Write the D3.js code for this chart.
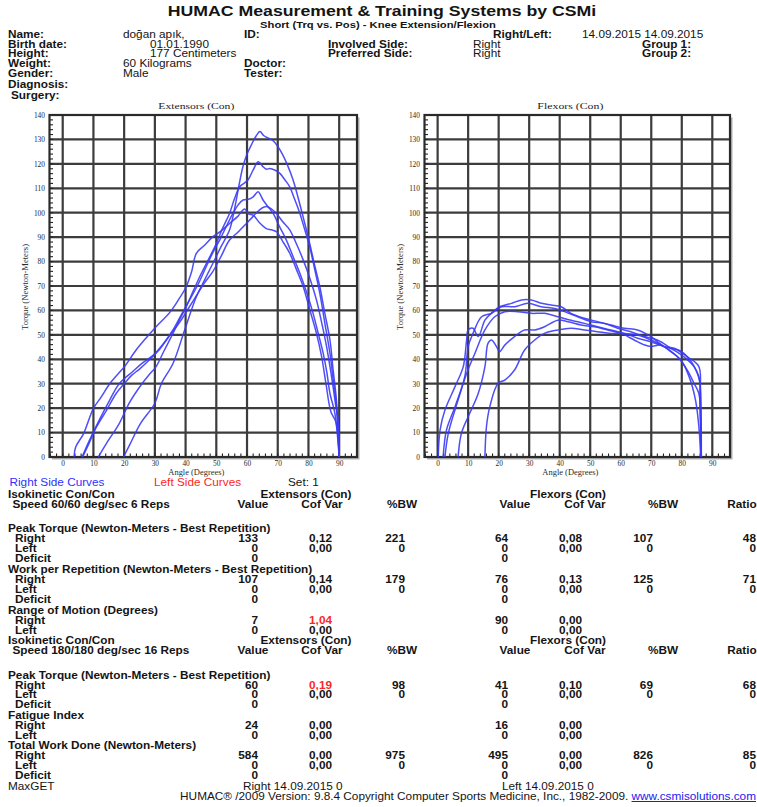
<!DOCTYPE html>
<html><head><meta charset="utf-8">
<script src="https://cdn.jsdelivr.net/npm/d3@7"></script>
<style>body{margin:0;background:#fff;}svg{display:block;}</style>
</head><body>
<svg id="c" width="757" height="807"></svg>
<script>
// ---------------- DATA ----------------
const titleText = "HUMAC Measurement & Training Systems by CSMi";
const subtitleText = "Short (Trq vs. Pos) - Knee Extension/Flexion";
const patientLabels = ["Name:", "Birth date:", "Height:", "Weight:", "Gender:", "Diagnosis:", "Surgery:"];
const patientValues = ["doğan apık,", "01.01.1990", "177 Centimeters", "60 Kilograms", "Male", "", ""];
const middleLabels = ["ID:", "Involved Side:", "Preferred Side:", "Doctor:", "Tester:", "", ""];
const middleValues = ["", "Right", "Right", "", "", "", ""];
const rightLabels = ["Right/Left:", "Group 1:", "Group 2:"];
const testDates = "14.09.2015 14.09.2015";

const angleTicks = [0, 10, 20, 30, 40, 50, 60, 70, 80, 90];
const torqueTicks = [0, 10, 20, 30, 40, 50, 60, 70, 80, 90, 100, 110, 120, 130, 140];
const chartTitles = ["Extensors (Con)", "Flexors (Con)"];
const yAxisTitle = "Torque (Newton-Meters)";
const xAxisTitle = "Angle (Degrees)";

// Extensor repetitions [angle, torque]
const extRep1 = [[19.8,0],[22,5.5],[25.3,13.7],[30,22],[32.1,30],[35.9,38.3],[39.7,52],[43.5,65.6],[46.2,72.5],[48.9,79.3],[51.5,86],[54.3,92.9],[56,102],[57.5,112],[58.7,119],[60,124],[61.5,128],[63,131.5],[64.2,133.2],[65.5,131.5],[67,130.5],[68.5,129.5],[69.8,127.5],[71.5,124],[73,120],[75,113.4],[77.7,101],[80.4,87.4],[82,78.5],[83.7,69.7],[85.3,59],[87,47.9],[88,36],[89.1,23.3],[90,0]];
const extRep2 = [[11.6,0],[14.2,5.5],[18.4,13.7],[21.6,22],[25.8,30],[28,33.5],[30.4,37],[33,43.5],[35.9,50.6],[38,56],[40.2,61.5],[42.5,68],[44.6,73.8],[47.5,81],[50,87.4],[52,93.5],[54.3,99.7],[56,106],[57.6,110.6],[59,112],[60.3,113.4],[62,117.5],[63.6,120.9],[64.5,120],[65.2,118.8],[66.3,117.8],[67.4,118.1],[69,117.5],[70.7,116.1],[72.3,113.5],[73.9,110.6],[75.5,105.5],[77.2,99.7],[78.8,93],[80.4,86],[82,77],[83.7,67],[85.3,55],[87,42.4],[88,32],[89.1,20.6],[90,0]];
const extRep3 = [[6.3,0],[8.4,6],[11.6,14.4],[15.3,23.3],[18.4,30],[22.8,35],[26,38.5],[29.3,41.5],[32.5,46],[35.9,52],[38.5,58],[41.3,64.3],[44,70.5],[46.7,77.9],[49,84],[51.1,88.8],[53.3,94.5],[55.4,99.7],[57,103],[58.7,105.2],[60.5,105.5],[62,106.5],[63.6,108.6],[64.5,107],[65.2,105.2],[66.8,102.5],[68.5,99.7],[70.5,94.5],[72.8,88.8],[75,82],[77.2,75.2],[79.5,67],[81.5,58.8],[83.2,50.5],[84.8,42.4],[86,34.5],[87,26],[88.6,17.9],[90,0]];
const extRep4 = [[6.5,0],[8,4],[11,12.3],[14.2,19],[17.4,26],[20,30],[22.5,33.5],[25,36],[28,39.5],[31.5,44],[35,50],[38,55],[41,61],[43.5,66],[46,71],[48.9,76],[51.5,82],[54.3,88.8],[57,92],[59.8,95.6],[62,98.5],[64.1,101.2],[66.3,102.5],[68,101.5],[69.6,99.7],[71.5,96.5],[73.9,93],[76,87.5],[78.3,80.6],[80.5,73],[82.6,64.3],[84.3,55],[85.9,45.2],[87,37],[88,28.8],[89,20],[89.7,15],[90,0]];
const extRep5 = [[3.7,0],[4.2,4],[6.8,9.6],[10,19.9],[12.5,24.5],[15.3,30],[18,34],[20.1,37],[23.9,43.8],[27,48.5],[30.4,53.3],[34.8,59.1],[37.5,64],[40.2,69.7],[42,76],[43.5,83.4],[46,86.5],[48.9,90.2],[51.5,92.5],[54.3,95.6],[57,98.5],[59.2,101.5],[60.5,99.5],[62,99],[64,96],[66.3,93.5],[68,93],[69.6,92.2],[71.5,88.5],[73.9,83.4],[76,77],[78.3,69.7],[80.5,60],[82.6,50.6],[84.3,41],[85.7,30],[87.3,18.5],[88.9,14.4],[90,0]];

// Flexor repetitions [angle, torque]
const flexRep1 = [[0.2,0],[0.8,11],[2.4,19.2],[5.7,28.8],[8.4,37],[9.5,47.9],[10,52],[11.6,52.7],[13.3,49.3],[15.5,56],[17.6,58.8],[20.3,61.5],[24.2,62.9],[27.5,64.3],[30.7,64.3],[34,62.9],[37.2,62.2],[40.5,61.5],[43.7,58.8],[48.1,56.8],[52.4,55.4],[56.8,54],[61.2,52.7],[65.5,52],[69.9,49.3],[74.2,45.2],[78.6,43.8],[81.8,41],[85.6,37],[85.9,23.3],[86.4,0]];
const flexRep2 = [[1.8,0],[2.9,11],[5.7,20.6],[8.9,32.9],[10,45.2],[11.6,50.6],[14.4,57.4],[17.6,58.8],[20.9,61.5],[25.2,61.5],[29.6,62.9],[34,61.5],[38.3,60.8],[41.6,59.5],[45.9,57.4],[50.3,55.4],[54.6,54.7],[59,52.7],[63.3,51.3],[67.7,49.3],[72,47.9],[76.4,44.5],[80.7,41],[84,37],[85.6,32.9],[86.2,23.3],[86.4,0]];
const flexRep3 = [[2.4,0],[3.5,9.7],[6.7,23.3],[9.5,34.2],[12.2,42.4],[15.5,52],[18.7,57.4],[22,59.5],[26.3,59.5],[30.7,58.8],[35,58.8],[39.4,57.4],[43.7,56],[48.1,54.7],[52.4,53.3],[56.8,52],[61.2,50.6],[65.5,49.9],[69.9,47.9],[74.2,45.2],[78.6,41],[81.8,35.6],[84,30.2],[85.6,26],[86.2,15],[86.4,0]];
const flexRep4 = [[6.7,0],[7.8,9.7],[10,16.5],[13.3,26],[15.5,37],[16.5,46.5],[17.6,47.9],[19.3,45.2],[20.3,43.1],[22,45.8],[25.2,49.3],[28.5,52],[31.8,52],[35,53.3],[39.4,56],[42.7,55.4],[47,54],[51.4,53.3],[55.7,52],[60.1,50.6],[64.4,47.9],[67.5,46],[69.9,45.2],[73.1,45.8],[76.4,43.1],[79.7,39.7],[82.4,32.9],[84.5,23.3],[85.6,12.4],[86.2,0]];
const flexRep5 = [[15.5,0],[16,12.4],[17.1,20.6],[19.8,30.2],[22,31.5],[25.2,35.6],[28.5,43.8],[31.8,47.9],[35,50.6],[39.4,52],[43.7,52.7],[48.1,52],[52.4,51.3],[56.8,50.6],[61.2,50.6],[65.5,48.6],[69.9,47.2],[74.2,45.2],[77.5,44.5],[80.7,42.4],[83.5,38.3],[85.1,34.2],[86,30.2],[86.2,16.5],[86.4,0]];

// Table texts and values
const legendTexts = ["Right Side Curves", "Left Side Curves", "Set: 1"];
const sectionTitle = "Isokinetic Con/Con";
const groupTitles = ["Extensors (Con)", "Flexors (Con)"];
const speedLabels = ["Speed 60/60 deg/sec 6 Reps", "Speed 180/180 deg/sec 16 Reps"];
const columnHeads = ["Value", "Cof Var", "%BW", "Value", "Cof Var", "%BW", "Ratio"];
const measureTitles60 = ["Peak Torque (Newton-Meters - Best Repetition)", "Work per Repetition (Newton-Meters - Best Repetition)", "Range of Motion (Degrees)"];
const measureTitles180 = ["Peak Torque (Newton-Meters - Best Repetition)", "Fatigue Index", "Total Work Done (Newton-Meters)"];
const sideLabels = ["Right", "Left", "Deficit"];
const pt60Right   = ["133", "0,12", "221", "64", "0,08", "107", "48"];
const pt60Left    = ["0", "0,00", "0", "0", "0,00", "0", "0"];
const pt60Deficit = ["0", "", "", "0", "", "", ""];
const wpr60Right  = ["107", "0,14", "179", "76", "0,13", "125", "71"];
const wpr60Left   = ["0", "0,00", "0", "0", "0,00", "0", "0"];
const wpr60Deficit= ["0", "", "", "0", "", "", ""];
const rom60Right  = ["7", "1,04", "", "90", "0,00", "", ""];
const rom60Left   = ["0", "0,00", "", "0", "0,00", "", ""];
const pt180Right  = ["60", "0,19", "98", "41", "0,10", "69", "68"];
const pt180Left   = ["0", "0,00", "0", "0", "0,00", "0", "0"];
const pt180Deficit= ["0", "", "", "0", "", "", ""];
const fat180Right = ["24", "0,00", "", "16", "0,00", "", ""];
const fat180Left  = ["0", "0,00", "", "0", "0,00", "", ""];
const tw180Right  = ["584", "0,00", "975", "495", "0,00", "826", "85"];
const tw180Left   = ["0", "0,00", "0", "0", "0,00", "0", "0"];
const tw180Deficit= ["0", "", "", "0", "", "", ""];
const maxGetTexts = ["MaxGET", "Right 14.09.2015 0", "Left 14.09.2015 0"];
const footerText = "HUMAC\u00AE /2009 Version: 9.8.4 Copyright Computer Sports Medicine, Inc., 1982-2009. ";
const footerLink = "www.csmisolutions.com";

// ---------------- DRAW ----------------
const svg = d3.select("#c");
const SANS = "'Liberation Sans', Arial, Helvetica, sans-serif";
const SERIF = "'Liberation Serif', 'Times New Roman', serif";
const SX = 1.18;
const tg = svg.append("g").attr("transform", `scale(${SX},1)`).attr("font-family", SANS);

function txt(x, yc, s, o = {}) {
  const size = o.size || 10;
  return tg.append("text")
    .attr("x", x / SX).attr("y", yc + size * 0.36)
    .attr("font-size", size)
    .attr("font-weight", o.bold === false ? "normal" : "bold")
    .attr("text-anchor", o.anchor || "start")
    .attr("fill", o.fill || "#141414")
    .text(s);
}

// header
txt(382, 10.8, titleText, {size: 15, anchor: "middle"});
txt(378, 25, subtitleText, {size: 9.5, anchor: "middle"});
const headRowY = [34, 44, 53.5, 63.5, 73.5, 84, 95];
const headLabelX = [8, 8, 8, 8, 8, 8, 11];
const headValueX = [123, 150, 150, 123, 123, 0, 0];
const midLabelX = [244, 328, 328, 244, 244, 0, 0];
patientLabels.forEach((s, i) => txt(headLabelX[i], headRowY[i], s));
patientValues.forEach((s, i) => { if (s) txt(headValueX[i], headRowY[i], s, {bold: false}); });
middleLabels.forEach((s, i) => { if (s) txt(midLabelX[i], headRowY[i], s); });
middleValues.forEach((s, i) => { if (s) txt(473, headRowY[i], s, {bold: false}); });
txt(493, headRowY[0], rightLabels[0]);
txt(582, headRowY[0], testDates, {bold: false});
txt(642, headRowY[1], rightLabels[1]);
txt(642, headRowY[2], rightLabels[2]);

// charts
function drawChart(x0, x1, curves, title) {
  const x = d3.scaleLinear().domain([-4.3, 95.8]).range([x0, x1]);
  const y = d3.scaleLinear().domain([0, 140]).range([457, 115]);
  const g = svg.append("g");
  g.append("rect").attr("x", x0 + 2.5).attr("y", y(140) + 2.5)
    .attr("width", x1 - x0).attr("height", y(0) - y(140)).attr("fill", "#b0b0b0");
  g.append("rect").attr("x", x0).attr("y", y(140))
    .attr("width", x1 - x0).attr("height", y(0) - y(140)).attr("fill", "#fff");
  const gridC = "#3c3c3c";
  g.selectAll(".vg").data(angleTicks).join("line").attr("class", "vg")
    .attr("x1", d => x(d)).attr("x2", d => x(d)).attr("y1", y(0)).attr("y2", y(140))
    .attr("stroke", gridC).attr("stroke-width", 2.2);
  g.selectAll(".hg").data(torqueTicks).join("line").attr("class", "hg")
    .attr("x1", x0).attr("x2", x1).attr("y1", d => y(d)).attr("y2", d => y(d))
    .attr("stroke", gridC).attr("stroke-width", 2.2);
  // minor ticks
  g.selectAll(".ym").data(d3.range(0, 141, 2)).join("line").attr("class", "ym")
    .attr("x1", x0).attr("x2", x0 + 3.5).attr("y1", d => y(d)).attr("y2", d => y(d))
    .attr("stroke", "#222").attr("stroke-width", 1.1);
  g.selectAll(".xm").data(d3.range(-4, 95, 2)).join("line").attr("class", "xm")
    .attr("x1", d => x(d)).attr("x2", d => x(d)).attr("y1", y(0)).attr("y2", y(0) - 3.5)
    .attr("stroke", "#222").attr("stroke-width", 1.1);
  // frame
  g.append("rect").attr("x", x0).attr("y", y(140))
    .attr("width", x1 - x0).attr("height", y(0) - y(140))
    .attr("fill", "none").attr("stroke", "#2a2a2a").attr("stroke-width", 2.2);
  // axes labels
  const ya = g.append("g").attr("transform", `translate(${x0},0)`)
    .call(d3.axisLeft(y).tickValues(torqueTicks).tickSize(0).tickPadding(4.5));
  const xa = g.append("g").attr("transform", `translate(0,${y(0)})`)
    .call(d3.axisBottom(x).tickValues(angleTicks).tickSize(0).tickPadding(3.5));
  [ya, xa].forEach(a => {
    a.select(".domain").remove();
    a.selectAll("text").attr("font-family", SERIF).attr("font-size", 7.4).attr("fill", "#2a2a2a");
  });
  // curves
  const line = d3.line().x(d => x(d[0])).y(d => y(d[1])).curve(d3.curveCatmullRom.alpha(0.5));
  g.selectAll(".rep").data(curves).join("path").attr("class", "rep")
    .attr("d", line).attr("fill", "none")
    .attr("stroke", "#3b3bf7").attr("stroke-width", 1.5).attr("stroke-opacity", 0.9);
  // titles
  const cx = x(43.5);
  g.append("text").attr("x", cx).attr("y", 108.5).attr("text-anchor", "middle")
    .attr("font-family", SERIF).attr("font-size", 8.5).attr("fill", "#222")
    .attr("textLength", title.length > 14 ? 76 : 66).attr("lengthAdjust", "spacingAndGlyphs").text(title);
  g.append("text").attr("x", cx).attr("y", 474.5).attr("text-anchor", "middle")
    .attr("font-family", SERIF).attr("font-size", 7.5).attr("fill", "#2a2a2a")
    .attr("textLength", 56).attr("lengthAdjust", "spacingAndGlyphs").text(xAxisTitle);
  g.append("text").attr("transform", `translate(${x0 - 22},287) rotate(-90)`)
    .attr("text-anchor", "middle").attr("font-family", SERIF).attr("font-size", 7.5).attr("fill", "#2a2a2a")
    .attr("textLength", 86).attr("lengthAdjust", "spacingAndGlyphs").text(yAxisTitle);
}
drawChart(49.5, 357, [extRep1, extRep2, extRep3, extRep4, extRep5], chartTitles[0]);
drawChart(424.5, 730, [flexRep1, flexRep2, flexRep3, flexRep4, flexRep5], chartTitles[1]);

// table
const colRight = [258, 332, 405, 508, 582, 653, 756];
const headCenter = [253, 322, 402, 515, 585, 663, 742];
const RED = "#ff2626";

txt(9.5, 482, legendTexts[0], {bold: false, fill: "#2f2fff"});
txt(154, 482, legendTexts[1], {bold: false, fill: RED});
txt(288, 482, legendTexts[2], {bold: false});

function sectionHead(yS, speed) {
  txt(8, yS, sectionTitle);
  txt(306, yS, groupTitles[0], {anchor: "middle"});
  txt(568, yS, groupTitles[1], {anchor: "middle"});
  txt(12.5, yS + 10.5, speed);
  columnHeads.forEach((h, i) => txt(headCenter[i], yS + 10.5, h, {anchor: "middle"}));
}
function dataRow(yR, label, vals, red = []) {
  txt(15, yR, label);
  vals.forEach((v, i) => { if (v) txt(colRight[i], yR, v, {anchor: "end", fill: red.includes(i) ? RED : "#141414"}); });
}

sectionHead(494, speedLabels[0]);
txt(8, 528, measureTitles60[0]);
dataRow(538, sideLabels[0], pt60Right);
dataRow(548, sideLabels[1], pt60Left);
dataRow(558, sideLabels[2], pt60Deficit);
txt(8, 569, measureTitles60[1]);
dataRow(579, sideLabels[0], wpr60Right);
dataRow(589, sideLabels[1], wpr60Left);
dataRow(599, sideLabels[2], wpr60Deficit);
txt(8, 610, measureTitles60[2]);
dataRow(620, sideLabels[0], rom60Right, [1]);
dataRow(630, sideLabels[1], rom60Left);

sectionHead(640, speedLabels[1]);
txt(8, 675, measureTitles180[0]);
dataRow(685, sideLabels[0], pt180Right, [1]);
dataRow(694.5, sideLabels[1], pt180Left);
dataRow(704.5, sideLabels[2], pt180Deficit);
txt(8, 715, measureTitles180[1]);
dataRow(725, sideLabels[0], fat180Right);
dataRow(735, sideLabels[1], fat180Left);
txt(8, 745, measureTitles180[2]);
dataRow(755.5, sideLabels[0], tw180Right);
dataRow(765, sideLabels[1], tw180Left);
dataRow(775, sideLabels[2], tw180Deficit);

txt(8, 786.5, maxGetTexts[0], {bold: false});
txt(243, 786.5, maxGetTexts[1], {bold: false});
txt(502, 786.5, maxGetTexts[2], {bold: false});

const ft = txt(756, 796.5, "", {bold: false, anchor: "end"});
ft.append("tspan").text(footerText);
ft.append("tspan").attr("fill", "#1a1aee").attr("text-decoration", "underline").text(footerLink);
</script>
</body></html>
